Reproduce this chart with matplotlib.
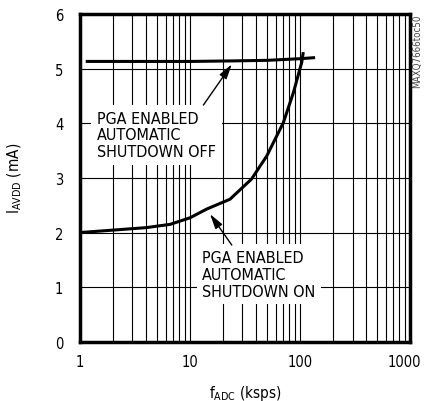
import numpy as np
import matplotlib.pyplot as plt
import matplotlib.transforms as mtransforms
from matplotlib.ticker import LogLocator, FixedLocator, NullFormatter

plt.rcParams['font.family'] = ['DejaVu Sans']
plt.rcParams['font.stretch'] = 'condensed'

# shutdown OFF curve
off_f = [1.13, 5, 10, 25, 50, 100, 137]
off_i = [5.13, 5.13, 5.13, 5.14, 5.15, 5.18, 5.20]

# shutdown ON curve
on_f = [1.0, 4.0, 6.6, 10, 14.2, 23.1, 36.3, 49.8, 70.5, 87, 103.5, 107]
on_i = [2.00, 2.09, 2.15, 2.27, 2.43, 2.61, 2.98, 3.40, 4.01, 4.56, 5.11, 5.30]

fig = plt.figure(figsize=(4.25, 4.02), dpi=100)
ax = fig.add_axes([0.188, 0.147, 0.777, 0.816])

ax.set_xscale('log')
ax.set_xlim(1, 1000)
ax.set_ylim(0, 6)
ax.xaxis.set_major_locator(FixedLocator([1, 10, 100, 1000]))
ax.xaxis.set_minor_locator(LogLocator(base=10, subs=np.arange(2, 10)))
ax.xaxis.set_minor_formatter(NullFormatter())
ax.set_xticklabels(['1', '10', '100', '1000'])
ax.set_yticks(range(0, 7))
ax.tick_params(which='both', length=0, labelsize=10.5)
ax.tick_params(axis='x', pad=9)
ax.tick_params(axis='y', pad=12)
ax.grid(which='both', color='black', lw=0.8)
for s in ax.spines.values():
    s.set_linewidth(2.5)

# nudge "1000" so it stays inside the figure
last = ax.get_xticklabels()[-1]
last.set_transform(last.get_transform() +
                   mtransforms.ScaledTranslation(-4 / 72, 0, fig.dpi_scale_trans))

ax.plot(off_f, off_i, color='black', lw=2.2, zorder=5, solid_capstyle='butt')
ax.plot(on_f, on_i, color='black', lw=2.2, zorder=5, solid_capstyle='butt')

box = dict(facecolor='white', edgecolor='none', pad=4)
ax.text(1.43, 4.23, 'PGA ENABLED\nAUTOMATIC\nSHUTDOWN OFF', fontsize=11.5,
        va='top', ha='left', linespacing=1.15, bbox=box, zorder=3)
ax.text(12.9, 1.68, 'PGA ENABLED\nAUTOMATIC\nSHUTDOWN ON', fontsize=11.5,
        va='top', ha='left', linespacing=1.15, bbox=box, zorder=3)

arrow = dict(arrowstyle='-|>,head_length=0.9,head_width=0.25', color='black', lw=1.0)
ax.annotate('', xy=(24.8, 5.12), xytext=(12.8, 4.29), arrowprops=arrow, zorder=6)
ax.annotate('', xy=(14.7, 2.38), xytext=(24.8, 1.73), arrowprops=arrow, zorder=6)

ax.set_xlabel('f$_{\\mathregular{ADC}}$ (ksps)', fontsize=11, labelpad=10)
ax.set_ylabel('I$_{\\mathregular{AVDD}}$ (mA)', fontsize=11, labelpad=22)

fig.text(0.982, 0.963, 'MAXQ7666toc50', rotation=90, fontsize=7,
         color='#444444', ha='center', va='top')

fig.savefig('out.png', dpi=100)
